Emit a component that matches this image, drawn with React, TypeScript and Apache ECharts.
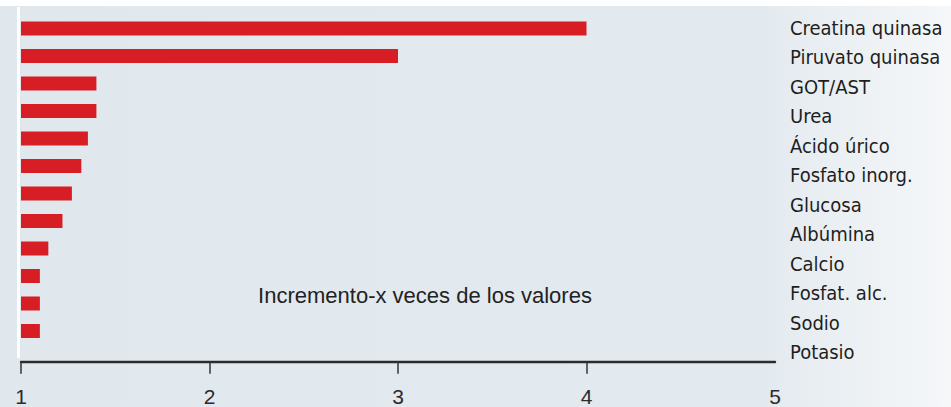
import React, { useEffect, useRef } from "react";
import * as echarts from "echarts";

const categories = [
  "Creatina quinasa",
  "Piruvato quinasa",
  "GOT/AST",
  "Urea",
  "Ácido úrico",
  "Fosfato inorg.",
  "Glucosa",
  "Albúmina",
  "Calcio",
  "Fosfat. alc.",
  "Sodio",
  "Potasio",
];
const values = [4.0, 3.0, 1.4, 1.4, 1.355, 1.32, 1.27, 1.22, 1.145, 1.1, 1.1, 1.1];
const xTicks = [1, 2, 3, 4, 5];
const tickMarks = [1, 2, 3, 4];
const title = "Incremento-x veces de los valores";

export default function App() {
  const ref = useRef<HTMLDivElement>(null);
  useEffect(() => {
    if (!ref.current) return;
    const chart = echarts.init(ref.current, null, { renderer: "svg" });
    chart.setOption({
      animation: false,
      graphic: [
        {
          type: "rect",
          z: -10,
          silent: true,
          shape: { x: 0, y: 6, width: 951, height: 401 },
          style: {
            fill: new echarts.graphic.LinearGradient(0, 0, 1, 0, [
              { offset: 0, color: "#e0e8ee" },
              { offset: 0.8, color: "#e3eaef" },
              { offset: 1, color: "#f5f7f9" },
            ]),
          },
        },
        {
          type: "rect",
          z: 5,
          silent: true,
          shape: { x: 17, y: 7, width: 3, height: 351 },
          style: { fill: "#ffffff" },
        },
        {
          type: "text",
          z: 10,
          x: 425,
          y: 295,
          style: {
            text: title,
            fill: "#222222",
            fontSize: 22,
            fontFamily: "Liberation Sans, Arial, sans-serif",
            align: "center",
            verticalAlign: "middle",
          },
        },
      ],
      grid: [
        { left: 21, top: 14.75, width: 754, height: 330, containLabel: false, outerBoundsMode: "none" },
        { left: 788, top: 13.3, width: 150, height: 353.4, containLabel: false, outerBoundsMode: "none" },
      ],
      xAxis: [
        {
          type: "value",
          gridIndex: 0,
          min: 1,
          max: 5,
          interval: 1,
          offset: 17,
          axisLine: { show: true, lineStyle: { color: "#2b2b2b", width: 2.4 } },
          axisTick: {
            show: true,
            length: 12,
            customValues: tickMarks,
            lineStyle: { color: "#333333", width: 1.5 },
          },
          axisLabel: {
            customValues: xTicks,
            margin: 27,
            lineHeight: 16,
            color: "#2b2b2b",
            fontSize: 21,
            fontFamily: "Liberation Sans, Arial, sans-serif",
          },
          splitLine: { show: false },
        },
        { type: "value", gridIndex: 1, show: false },
      ],
      yAxis: [
        {
          type: "category",
          gridIndex: 0,
          inverse: true,
          data: categories,
          axisLine: { show: false },
          axisTick: { show: false },
          axisLabel: { show: false },
          splitLine: { show: false },
        },
        {
          type: "category",
          gridIndex: 1,
          inverse: true,
          data: categories,
          position: "left",
          axisLine: { show: false },
          axisTick: { show: false },
          axisLabel: {
            inside: true,
            margin: 2,
            color: "#1e1e1e",
            fontSize: 20,
            fontFamily: "'Liberation Sans Narrow', 'DejaVu Sans Condensed', Roboto, sans-serif",
          },
          splitLine: { show: false },
        },
      ],
      series: [
        {
          type: "bar",
          xAxisIndex: 0,
          yAxisIndex: 0,
          data: values,
          barWidth: 14,
          itemStyle: { color: "#d81e25" },
        },
        {
          type: "bar",
          xAxisIndex: 1,
          yAxisIndex: 1,
          data: [],
        },
      ],
    });
    return () => chart.dispose();
  }, []);
  return <div ref={ref} style={{ width: 951, height: 407, position: "absolute", left: 0, top: 0 }} />;
}
